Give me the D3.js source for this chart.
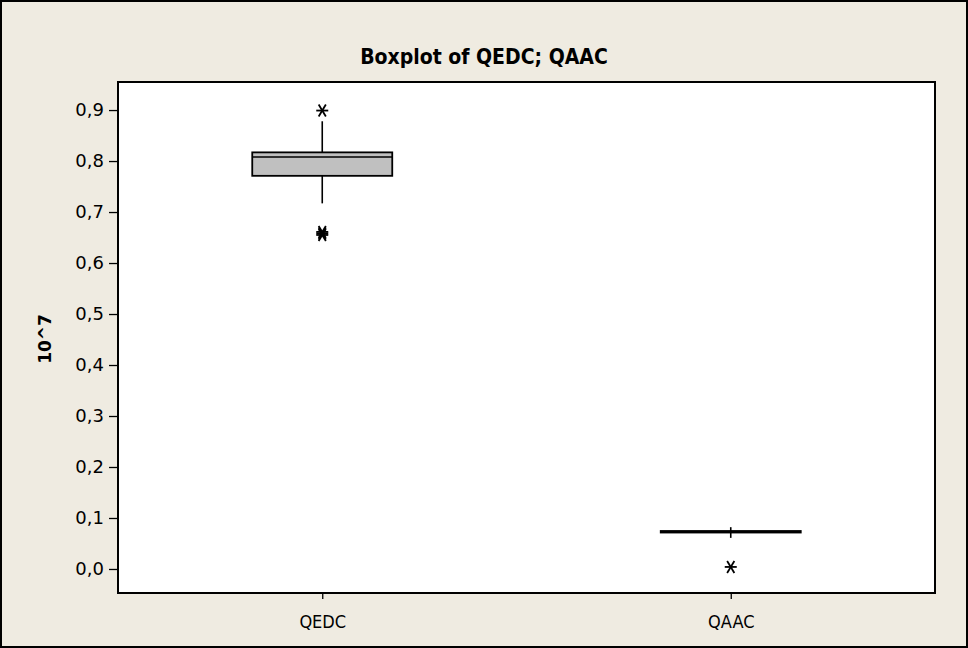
<!DOCTYPE html>
<html>
<head>
<meta charset="utf-8">
<script src="https://cdn.jsdelivr.net/npm/d3@7"></script>
<style>
  body { margin: 0; background: #efebe1; }
  svg { display: block; }
</style>
</head>
<body>
<svg></svg>
<script>
// values are in units of 10^7
var categories = ["QEDC", "QAAC"];
var q1 = [0.771, 0.0715];
var median = [0.808, 0.073];
var q3 = [0.817, 0.0745];
var whiskerLow = [0.717, 0.061];
var whiskerHigh = [0.878, 0.082];
var outliers = [[0.899, 0.661, 0.658, 0.655], [0.004]];
var yTicks = [0, 0.1, 0.2, 0.3, 0.4, 0.5, 0.6, 0.7, 0.8, 0.9];

var width = 968, height = 648;
var plot = {left: 118, right: 935, top: 82, bottom: 593};

var svg = d3.select("svg")
    .attr("width", width)
    .attr("height", height);

svg.append("rect")
    .attr("x", 1).attr("y", 1)
    .attr("width", width - 2).attr("height", height - 2)
    .attr("fill", "#efebe1")
    .attr("stroke", "#000")
    .attr("stroke-width", 2);

var x = d3.scalePoint()
    .domain(categories)
    .range([plot.left, plot.right])
    .padding(0.5);

var y = d3.scaleLinear()
    .domain([-0.0471, 0.955])
    .range([plot.bottom, plot.top]);

svg.append("rect")
    .attr("x", plot.left).attr("y", plot.top)
    .attr("width", plot.right - plot.left)
    .attr("height", plot.bottom - plot.top)
    .attr("fill", "#fff");

svg.append("text")
    .attr("x", 484).attr("y", 64)
    .attr("text-anchor", "middle")
    .attr("font-family", "'DejaVu Sans Condensed', 'DejaVu Sans', sans-serif")
    .attr("font-weight", "bold")
    .attr("font-size", 21)
    .text("Boxplot of QEDC; QAAC");

var fmt = function (d) { return d3.format(".1f")(d).replace(".", ","); };

var yAxis = svg.append("g")
    .attr("transform", "translate(" + plot.left + ",0)")
    .call(d3.axisLeft(y).tickValues(yTicks).tickFormat(fmt).tickSize(9).tickPadding(5));
yAxis.attr("font-size", 18).attr("font-family", "'DejaVu Sans', sans-serif");
yAxis.select(".domain").remove();
yAxis.selectAll("line").attr("stroke", "#000").attr("stroke-width", 1.3);
yAxis.selectAll("text").attr("fill", "#000");

var xAxis = svg.append("g")
    .attr("transform", "translate(0," + plot.bottom + ")")
    .call(d3.axisBottom(x).tickSize(6).tickPadding(16));
xAxis.attr("font-size", 18).attr("font-family", "'DejaVu Sans Condensed', 'DejaVu Sans', sans-serif");
xAxis.select(".domain").remove();
xAxis.selectAll("line").attr("stroke", "#000").attr("stroke-width", 1.3);
xAxis.selectAll("text").attr("fill", "#000");

svg.append("text")
    .attr("transform", "translate(51,339) rotate(-90)")
    .attr("text-anchor", "middle")
    .attr("font-family", "'DejaVu Sans', sans-serif")
    .attr("font-weight", "bold")
    .attr("font-size", 17)
    .text("10^7");

var boxW = 140;
var boxes = svg.append("g");

categories.forEach(function (c, i) {
    var cx = x(c);
    var g = boxes.append("g");
    g.append("line")
        .attr("x1", cx).attr("x2", cx)
        .attr("y1", y(whiskerHigh[i])).attr("y2", y(q3[i]))
        .attr("stroke", "#000").attr("stroke-width", 1.6);
    g.append("line")
        .attr("x1", cx).attr("x2", cx)
        .attr("y1", y(q1[i])).attr("y2", y(whiskerLow[i]))
        .attr("stroke", "#000").attr("stroke-width", 1.6);
    g.append("rect")
        .attr("x", cx - boxW / 2).attr("y", y(q3[i]))
        .attr("width", boxW)
        .attr("height", y(q1[i]) - y(q3[i]))
        .attr("fill", "#c0c0c0")
        .attr("stroke", "#000").attr("stroke-width", 1.8);
    g.append("line")
        .attr("x1", cx - boxW / 2).attr("x2", cx + boxW / 2)
        .attr("y1", y(median[i])).attr("y2", y(median[i]))
        .attr("stroke", "#000").attr("stroke-width", 1.6);

    // Minitab style asterisks
    outliers[i].forEach(function (v) {
        var py = y(v), s = 6;
        var star = g.append("g")
            .attr("transform", "translate(" + cx + "," + py + ")")
            .attr("stroke", "#000").attr("stroke-width", 1.8);
        star.append("line").attr("x1", -s).attr("x2", s).attr("y1", 0).attr("y2", 0);
        star.append("line").attr("x1", -s * 0.6).attr("x2", s * 0.6).attr("y1", -s).attr("y2", s);
        star.append("line").attr("x1", -s * 0.6).attr("x2", s * 0.6).attr("y1", s).attr("y2", -s);
    });
});

svg.append("rect")
    .attr("x", plot.left).attr("y", plot.top)
    .attr("width", plot.right - plot.left)
    .attr("height", plot.bottom - plot.top)
    .attr("fill", "none")
    .attr("stroke", "#000")
    .attr("stroke-width", 2);
</script>
</body>
</html>
